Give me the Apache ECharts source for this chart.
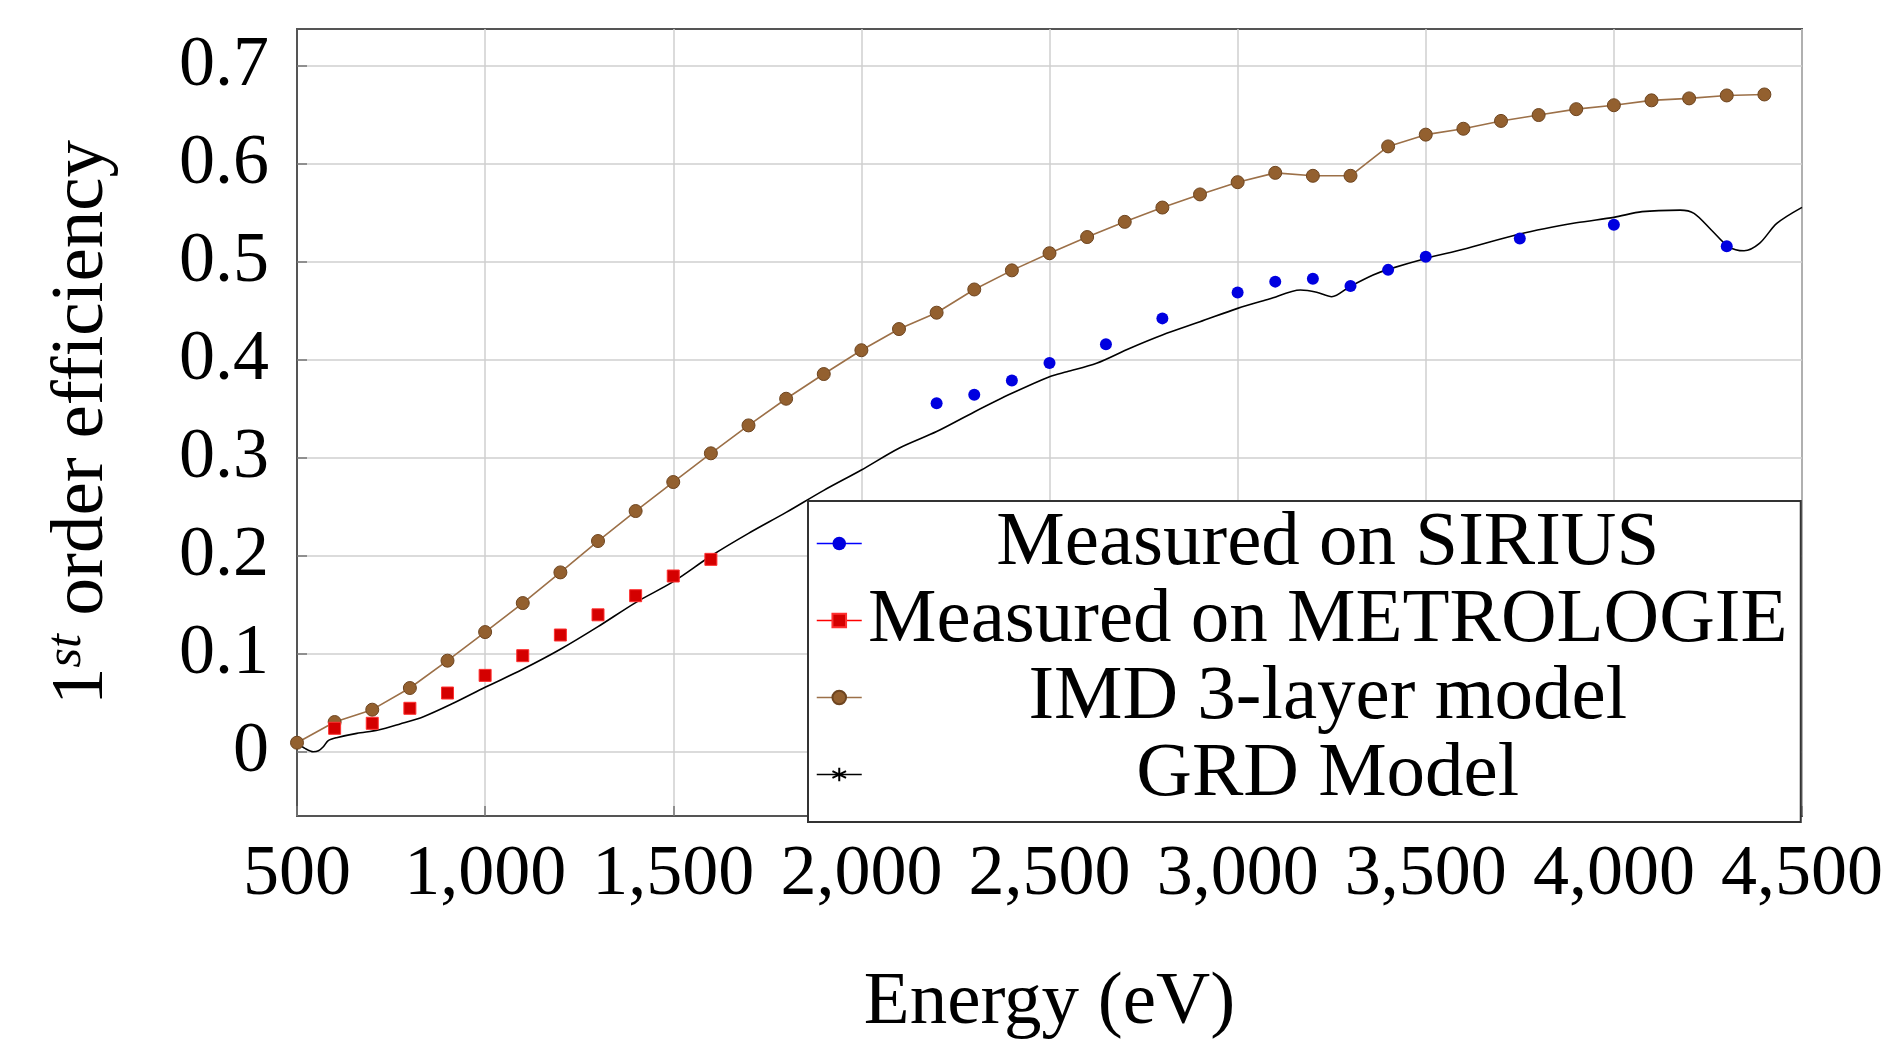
<!DOCTYPE html>
<html>
<head>
<meta charset="utf-8">
<script src="https://cdn.jsdelivr.net/npm/echarts@6/dist/echarts.min.js"></script>
<style>
html,body{margin:0;padding:0;background:#fff;}
#chart{width:1893px;height:1042px;}
</style>
</head>
<body>
<div id="chart"></div>
<script>
// ---- data ----
const energySirius = [2200,2300,2400,2500,2650,2800,3000,3100,3200,3300,3400,3500,3750,4000,4300];
const siriusValues = [0.356,0.3646,0.379,0.397,0.416,0.4425,0.469,0.480,0.483,0.4755,0.492,0.5054,0.524,0.538,0.516];

const energyMetro = [600,700,800,900,1000,1100,1200,1300,1400,1500,1600];
const metroValues = [0.0242,0.0293,0.0446,0.0602,0.0782,0.0983,0.1194,0.140,0.1595,0.1796,0.1966];

const energyIMD = [500,600,700,800,900,1000,1100,1200,1300,1400,1500,1600,1700,1800,1900,2000,2100,2200,2300,2400,2500,2600,2700,2800,2900,3000,3100,3200,3300,3400,3500,3600,3700,3800,3900,4000,4100,4200,4300,4400];
const imdValues = [0.0095,0.0306,0.0432,0.0653,0.0932,0.1224,0.152,0.1833,0.2153,0.2459,0.2755,0.3048,0.3333,0.3605,0.3857,0.410,0.4316,0.4483,0.472,0.4915,0.509,0.5255,0.541,0.5556,0.569,0.5815,0.591,0.588,0.588,0.618,0.630,0.636,0.644,0.650,0.656,0.660,0.665,0.667,0.670,0.671];

const energyGRD = [500,521,543,557,570,583,605,659,716,774,836,915,1000,1100,1200,1300,1400,1500,1600,1700,1800,1900,2000,2100,2200,2300,2400,2500,2546,2625,2714,2800,2900,3000,3084,3167,3210,3250,3298,3360,3400,3500,3600,3750,3900,4000,4075,4176,4213,4259,4305,4346,4387,4433,4500];
const grdValues = [0.009,0.0037,0.0003,0.0013,0.0054,0.0116,0.0146,0.019,0.0224,0.0286,0.036,0.0497,0.066,0.0844,0.1048,0.1279,0.1525,0.1738,0.200,0.2231,0.2445,0.267,0.2878,0.310,0.327,0.347,0.366,0.383,0.388,0.3966,0.412,0.4255,0.439,0.4527,0.4622,0.4714,0.4692,0.4646,0.4748,0.4867,0.4925,0.5037,0.513,0.5286,0.540,0.5456,0.5514,0.553,0.5497,0.5327,0.5156,0.5115,0.519,0.5394,0.5558];

const yTickValues = [0,0.1,0.2,0.3,0.4,0.5,0.6,0.7];
const seriesNames = ['Measured on SIRIUS','Measured on METROLOGIE','IMD 3-layer model','GRD Model'];

function pairs(xs, ys){ return xs.map((x,i)=>[x, ys[i]]); }

const FONT = 'Liberation Serif';
const chart = echarts.init(document.getElementById('chart'), null, {renderer:'canvas'});

const option = {
  backgroundColor: '#ffffff',
  animation: false,
  grid: {
    left: 297, right: 91, top: 29, bottom: 226,
    outerBoundsMode: 'none', containLabel: false,
    show: true, borderColor: '#555', borderWidth: 2, backgroundColor: 'transparent'
  },
  xAxis: {
    type: 'value', min: 500, max: 4500, interval: 500,
    name: 'Energy (eV)', nameLocation: 'middle', nameGap: 150,
    nameTextStyle: {fontFamily: FONT, fontSize: 75, color: '#000'},
    axisLine: {show: true, onZero: false, lineStyle: {color: '#555', width: 2}},
    axisTick: {show: true, inside: true, length: 10, lineStyle: {color: '#777', width: 1.5}},
    axisLabel: {
      fontFamily: FONT, fontSize: 72, color: '#000', margin: 23,
      formatter: v => v.toLocaleString('en-US')
    },
    splitLine: {show: true, lineStyle: {color: '#cfcfcf', width: 1.5}}
  },
  yAxis: {
    type: 'value', min: -0.0653, max: 0.7378,
    name: '1{sup|st} order efficiency', nameLocation: 'middle', nameGap: 175, nameRotate: 90,
    nameTextStyle: {
      fontFamily: FONT, fontSize: 75, color: '#000', lineHeight: 80,
      rich: {sup: {fontFamily: FONT, fontSize: 50, fontStyle: 'italic', color: '#000', verticalAlign: 'top', lineHeight: 80}}
    },
    axisLine: {show: true, onZero: false, lineStyle: {color: '#555', width: 2}},
    axisTick: {show: true, inside: true, length: 10, customValues: yTickValues, lineStyle: {color: '#777', width: 1.5}},
    axisLabel: {
      fontFamily: FONT, fontSize: 72, color: '#000', margin: 28,
      customValues: yTickValues,
      formatter: v => String(Math.round(v*10)/10)
    },
    splitLine: {show: true, lineStyle: {color: '#cfcfcf', width: 1.5}}
  },
  legend: {
    orient: 'vertical',
    left: 808, top: 501,
    padding: [4, 12, 9, 8],
    itemGap: 0,
    itemWidth: 45, itemHeight: 17,
    itemTextGap: 5,
    backgroundColor: '#ffffff',
    borderColor: '#333', borderWidth: 2,
    formatter: name => '{t|' + name + '}',
    textStyle: {
      fontFamily: FONT, fontSize: 77, color: '#000', lineHeight: 75,
      rich: {t: {fontFamily: FONT, fontSize: 77, color: '#000', width: 922, align: 'center', lineHeight: 75}}
    },
    data: [
      {name: seriesNames[0], lineStyle: {color: '#0000ff', width: 1.5, opacity: 1}},
      {name: seriesNames[1], lineStyle: {color: '#ff0000', width: 1.5, opacity: 1}},
      {name: seriesNames[2], lineStyle: {color: '#9c7048', width: 1.5, opacity: 1}},
      {name: seriesNames[3], lineStyle: {color: '#000000', width: 1.5, opacity: 1}}
    ]
  },
  series: [
    {
      name: seriesNames[3], type: 'line', data: pairs(energyGRD, grdValues),
      showSymbol: false, smooth: 0.3,
      symbol: 'path://M0,-10 L0,10 M-8.7,-5 L8.7,5 M-8.7,5 L8.7,-5',
      symbolSize: 8,
      itemStyle: {color: '#000', borderColor: '#000', borderWidth: 1},
      lineStyle: {color: '#000', width: 1.6}, z: 2
    },
    {
      name: seriesNames[2], type: 'line', data: pairs(energyIMD, imdValues),
      symbol: 'circle', symbolSize: 13,
      itemStyle: {color: '#93602f', borderColor: '#6e4520', borderWidth: 1},
      lineStyle: {color: '#9c7048', width: 1.6}, z: 3
    },
    {
      name: seriesNames[1], type: 'line', data: pairs(energyMetro, metroValues),
      symbol: 'rect', symbolSize: 12,
      itemStyle: {color: '#d40000', borderColor: '#ff3030', borderWidth: 1},
      lineStyle: {width: 0, opacity: 0}, z: 4
    },
    {
      name: seriesNames[0], type: 'line', data: pairs(energySirius, siriusValues),
      symbol: 'circle', symbolSize: 12,
      itemStyle: {color: '#0000e0'},
      lineStyle: {width: 0, opacity: 0}, z: 5
    }
  ]
};
chart.setOption(option);
</script>
</body>
</html>
